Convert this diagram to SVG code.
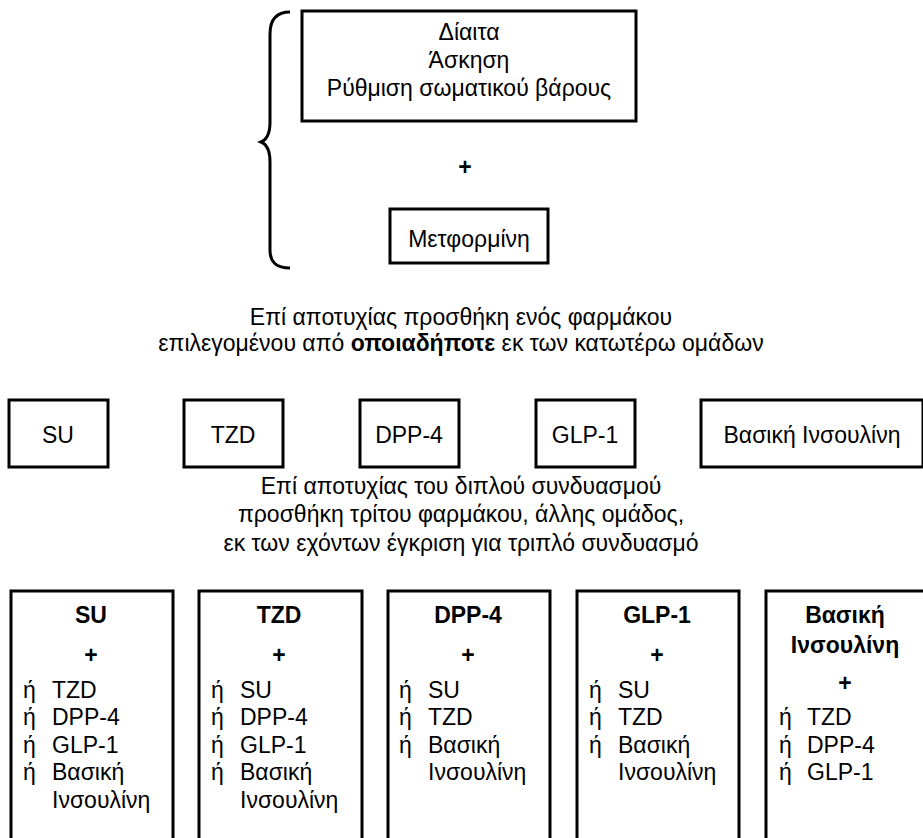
<svg xmlns="http://www.w3.org/2000/svg" width="923" height="838" viewBox="0 0 923 838">
<style>
text{font-family:"Liberation Sans",Arial,sans-serif;font-size:23px;fill:#000}
.c{text-anchor:middle}
.b{font-weight:bold}
.box{fill:#fff;stroke:#000;stroke-width:3}
.ln{fill:none;stroke:#000;stroke-width:3}
</style>
<rect width="923" height="838" fill="#fff"/>
<g id="connectors">
<path class="ln" d="M290,12 C276,12 270,20 270,34 L270,122 C270,134 266,140 261,142 C266,144 270,150 270,162 L270,250 C270,262 276,268 290,268"/>
</g>
<g id="lifestyle">
<rect class="box" x="302" y="11" width="334" height="110"/>
<text class="c" x="469" y="40">Δίαιτα</text>
<text class="c" x="469" y="68">Άσκηση</text>
<text class="c" x="469" y="96">Ρύθμιση σωματικού βάρους</text>
</g>
<g id="plus1"><text class="c b" x="465" y="175">+</text></g>
<g id="metformin">
<rect class="box" x="390" y="209" width="158" height="54"/>
<text class="c" x="469" y="247">Μετφορμίνη</text>
</g>
<g id="step2label">
<text class="c" x="461" y="325">Επί αποτυχίας προσθήκη ενός φαρμάκου</text>
<text class="c" x="461" y="351">επιλεγομένου από <tspan class="b">οποιαδήποτε</tspan> εκ των κατωτέρω ομάδων</text>
</g>
<g id="su"><rect class="box" x="9" y="400" width="99" height="67"/><text class="c" x="58" y="443">SU</text></g>
<g id="tzd"><rect class="box" x="184" y="400" width="99" height="67"/><text class="c" x="233" y="443">TZD</text></g>
<g id="dpp4"><rect class="box" x="360" y="400" width="99" height="67"/><text class="c" x="409" y="443">DPP-4</text></g>
<g id="glp1"><rect class="box" x="536" y="400" width="99" height="67"/><text class="c" x="585" y="443">GLP-1</text></g>
<g id="basal"><rect class="box" x="701" y="400" width="222" height="67"/><text class="c" x="812" y="443">Βασική Ινσουλίνη</text></g>
<g id="step3label">
<text class="c" x="461" y="494">Επί αποτυχίας του διπλού συνδυασμού</text>
<text class="c" x="461" y="522">προσθήκη τρίτου φαρμάκου, άλλης ομάδος,</text>
<text class="c" x="461" y="551">εκ των εχόντων έγκριση για τριπλό συνδυασμό</text>
</g>
<g id="triple-su">
<rect class="box" x="11" y="591" width="162" height="260"/>
<text class="c b" x="91" y="623">SU</text>
<text class="c b" x="91" y="663">+</text>
<text x="23" y="698">ή</text><text x="52" y="698">TZD</text>
<text x="23" y="725">ή</text><text x="52" y="725">DPP-4</text>
<text x="23" y="753">ή</text><text x="52" y="753">GLP-1</text>
<text x="23" y="780">ή</text><text x="52" y="780">Βασική</text>
<text x="52" y="808">Ινσουλίνη</text>
</g>
<g id="triple-tzd">
<rect class="box" x="199" y="591" width="163" height="260"/>
<text class="c b" x="279" y="623">TZD</text>
<text class="c b" x="279" y="663">+</text>
<text x="211" y="698">ή</text><text x="240" y="698">SU</text>
<text x="211" y="725">ή</text><text x="240" y="725">DPP-4</text>
<text x="211" y="753">ή</text><text x="240" y="753">GLP-1</text>
<text x="211" y="780">ή</text><text x="240" y="780">Βασική</text>
<text x="240" y="808">Ινσουλίνη</text>
</g>
<g id="triple-dpp4">
<rect class="box" x="388" y="591" width="162" height="260"/>
<text class="c b" x="468" y="623">DPP-4</text>
<text class="c b" x="468" y="663">+</text>
<text x="399" y="698">ή</text><text x="428" y="698">SU</text>
<text x="399" y="725">ή</text><text x="428" y="725">TZD</text>
<text x="399" y="753">ή</text><text x="428" y="753">Βασική</text>
<text x="428" y="780">Ινσουλίνη</text>
</g>
<g id="triple-glp1">
<rect class="box" x="577" y="591" width="162" height="260"/>
<text class="c b" x="657" y="623">GLP-1</text>
<text class="c b" x="657" y="663">+</text>
<text x="589" y="698">ή</text><text x="618" y="698">SU</text>
<text x="589" y="725">ή</text><text x="618" y="725">TZD</text>
<text x="589" y="753">ή</text><text x="618" y="753">Βασική</text>
<text x="618" y="780">Ινσουλίνη</text>
</g>
<g id="triple-basal">
<rect class="box" x="766" y="591" width="170" height="260"/>
<text class="c b" x="845" y="623">Βασική</text>
<text class="c b" x="845" y="653">Ινσουλίνη</text>
<text class="c b" x="845" y="691">+</text>
<text x="779" y="725">ή</text><text x="807" y="725">TZD</text>
<text x="779" y="753">ή</text><text x="807" y="753">DPP-4</text>
<text x="779" y="780">ή</text><text x="807" y="780">GLP-1</text>
</g>
</svg>
